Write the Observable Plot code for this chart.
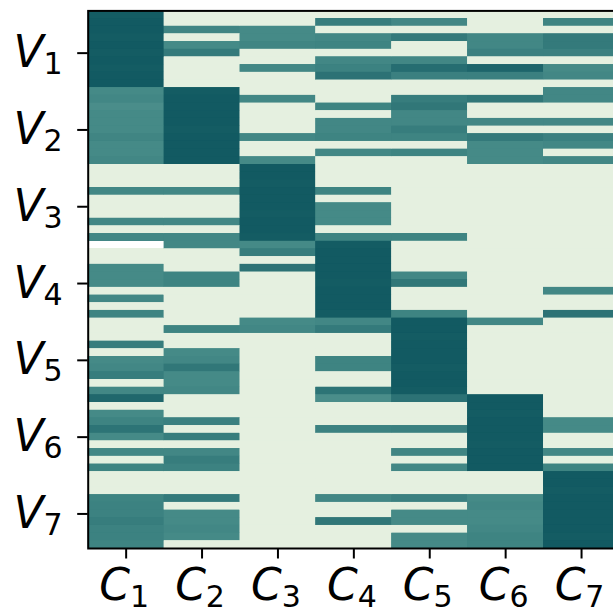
<!DOCTYPE html>
<html>
<head>
<meta charset="utf-8">
<script src="https://cdn.jsdelivr.net/npm/d3@7"></script>
<script src="https://cdn.jsdelivr.net/npm/@observablehq/plot@0.6"></script>
<style>
html,body{margin:0;padding:0;background:#fff;overflow:hidden}
svg{display:block}
</style>
</head>
<body>
<div id="chart"></div>
<script>
const columns = ["C1","C2","C3","C4","C5","C6","C7"];
const rowLabels = ["V1","V2","V3","V4","V5","V6","V7"];
const rowTicks = [5,15,25,35,45,55,65];

const C1 = [.99,1,1,.99,1,.99,1,.99,1,1, .7,.72,.68,.7,.7,.7,.73,.7,.7,.72,
  0,0,0,.72,0,0,0,.72,0,.72, null,0,0,.7,.7,.7,0,.72,0,.74,
  0,0,0,.78,0,.7,.72,.78,0,.72, .92,0,.7,.74,.84,.7,0,.72,0,.74,
  0,0,0,.74,.75,.75,.78,.75,.75,.74];
const C2 = [0,0,.73,0,.7,.8,0,0,0,0, .99,1,1,1,1,.99,1,1,1,1,
  0,0,0,.72,0,0,0,.72,0,.72, .72,0,0,0,.74,.74,0,0,0,0,
  0,.74,0,0,.7,.72,.82,.7,.7,.72, 0,0,0,.76,0,.78,0,.72,.78,.75,
  0,0,0,.8,0,.7,.7,.72,.7,0];
const C3 = [0,0,.7,.7,.73,0,0,.72,0,0, 0,.72,0,0,0,0,.72,0,0,.7,
  1,1,.99,1,1,1,.99,1,1,.99, .7,.78,0,.85,0,0,0,0,0,0,
  .7,.72,0,0,0,0,0,0,0,0, 0,0,0,0,0,0,0,0,0,0,
  0,0,0,0,0,0,0,0,0,0];
const C4 = [0,.78,0,.72,.74,0,.72,.75,.85,0, 0,0,.74,0,.72,.72,.74,0,.72,0,
  0,0,0,.74,0,.7,.7,.7,0,.74, .99,1,1,1,1,.99,1,1,1,.99,
  .72,.8,0,0,0,.74,.74,0,0,.84, .68,0,0,0,.75,0,0,0,0,0,
  0,0,0,.72,0,0,.82,0,0,0];
const C5 = [0,.72,0,.8,0,0,.72,.88,.76,0, 0,.78,.82,.72,.72,.78,.74,0,.74,0,
  0,0,0,0,0,0,0,0,0,.74, 0,0,0,0,.72,.82,0,0,0,.74,
  1,1,.99,1,1,1,.99,1,1,.99, .85,0,0,0,.76,0,0,.73,0,.72,
  0,0,0,.76,0,.7,.7,0,.7,.7];
const C6 = [0,0,0,.72,.72,.76,0,.93,.76,0, 0,.82,0,0,.72,0,.8,.7,.7,.7,
  0,0,0,0,0,0,0,0,0,0, 0,0,0,0,0,0,0,0,0,0,
  .72,0,0,0,0,0,0,0,0,0, 1,1,.99,1,1,1,.99,1,1,1,
  0,0,0,.7,.72,.7,.7,.72,.74,.74];
const C7 = [0,.74,0,.8,.8,.76,0,.7,.72,0, .72,.72,0,0,.72,0,.76,.72,0,.72,
  0,0,0,0,0,0,0,0,0,0, 0,0,0,0,0,0,.72,0,0,.85,
  0,0,0,0,0,0,0,0,0,0, 0,0,0,.7,.7,0,0,.72,0,.74,
  1,1,.99,1,1,1,1,1,.99,1];

const series = [C1,C2,C3,C4,C5,C6,C7];
const cells = series.flatMap((vals,i) =>
  vals.map((v,r) => ({col:columns[i], row:r, value:v})).filter(d => d.value !== null));

const fontFamily = '"DejaVu Sans", sans-serif';
const plot = Plot.plot({
  width: 613, height: 611,
  marginLeft: 87.7, marginRight: -6, marginTop: 10.4, marginBottom: 63,
  style: {background:"#fff", fontFamily},
  x: {type:"band", domain:columns, padding:0, round:false},
  y: {type:"band", domain:d3.range(70), padding:0, round:false},
  color: {type:"linear", domain:[0,.7,1], range:["#e5f0e0","#458a87","#125a62"]},
  marks: [
    Plot.cell(cells, {x:"col", y:"row", fill:"value", shapeRendering:"crispEdges"}),
    Plot.cell(cells, {x:"col", y:"row", fill:"value"}),
    Plot.frame({stroke:"#000", strokeWidth:2}),
    Plot.axisY({ticks:rowTicks, tickFormat:d => rowLabels[rowTicks.indexOf(d)], tickSize:10.5, strokeWidth:2, stroke:"#000", tickPadding:15, fontSize:44, fill:"#000", label:null, fontFamily}),
    Plot.axisX({ticks:columns, tickSize:10.5, strokeWidth:2, stroke:"#000", tickPadding:10, fontSize:44, fill:"#000", label:null, fontFamily})
  ]
});

// Math-style tick labels: oblique letter followed by a subscript digit
d3.select(plot).selectAll('g[aria-label$="tick label"] text').each(function() {
  const s = this.textContent;
  const t = d3.select(this).text(null);
  t.append("tspan").attr("font-style","oblique").text(s[0]);
  t.append("tspan").attr("font-size",30).attr("dy","0.23em").text(s.slice(1));
});
d3.select(plot).selectAll('g[aria-label="x-axis tick label"] text').each(function() {
  const old = this.getAttribute("transform") || "";
  this.setAttribute("transform", old + " translate(-2,0)");
});
document.getElementById("chart").append(plot);
</script>
</body>
</html>
